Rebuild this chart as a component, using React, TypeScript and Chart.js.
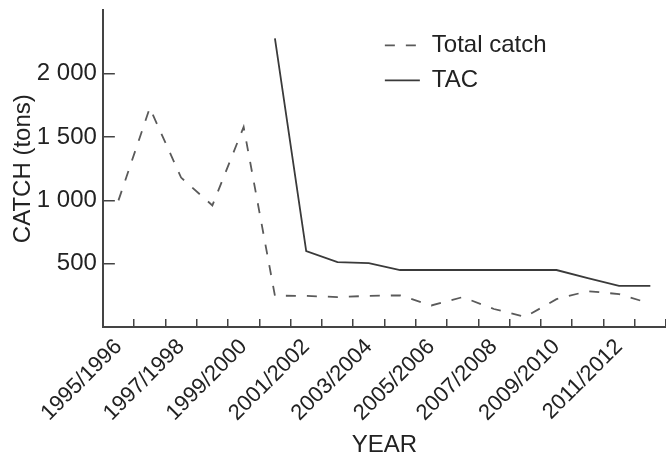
import { useEffect, useRef } from 'react';
import { Chart, registerables } from 'chart.js';

Chart.register(...registerables);

const seasons = [
  '1995/1996', '1996/1997', '1997/1998', '1998/1999', '1999/2000', '2000/2001',
  '2001/2002', '2002/2003', '2003/2004', '2004/2005', '2005/2006', '2006/2007',
  '2007/2008', '2008/2009', '2009/2010', '2010/2011', '2011/2012', '2012/2013',
];
const shownTickLabels = [
  '1995/1996', '1997/1998', '1999/2000', '2001/2002', '2003/2004',
  '2005/2006', '2007/2008', '2009/2010', '2011/2012',
];
const totalCatch = [1000, 1730, 1180, 960, 1580, 247, 246, 236, 246, 250, 170, 236, 142, 80, 220, 283, 260, 185];
const tac = [null, null, null, null, null, 2280, 600, 512, 505, 450, 450, 450, 450, 450, 450, 386, 325, 325];
const yTickValues = [500, 1000, 1500, 2000];

const FONT = 'Liberation Sans, Arial, Helvetica, sans-serif';

const legendPlugin = {
  id: 'insideLegend',
  afterDraw(chart: any) {
    const { ctx, chartArea } = chart;
    const x0 = chartArea.left + 282;
    const y0 = chartArea.top + 35;
    ctx.save();
    ctx.font = `24px ${FONT}`;
    ctx.textBaseline = 'middle';
    ctx.fillStyle = '#222';
    chart.data.datasets.forEach((ds: any, i: number) => {
      const y = y0 + i * 35;
      ctx.beginPath();
      ctx.strokeStyle = ds.borderColor;
      ctx.lineWidth = ds.borderWidth;
      ctx.setLineDash(ds.borderDash || []);
      ctx.moveTo(x0, y);
      ctx.lineTo(x0 + 35, y);
      ctx.stroke();
      ctx.setLineDash([]);
      ctx.fillText(ds.label, x0 + 47, y);
    });
    ctx.restore();
  },
};

export default function App() {
  const ref = useRef<HTMLCanvasElement>(null);
  useEffect(() => {
    document.body.style.overflow = 'hidden';
    const chart = new Chart(ref.current!, {
      type: 'line',
      data: {
        labels: seasons,
        datasets: [
          {
            label: 'Total catch',
            data: totalCatch,
            borderColor: '#5a5a5a',
            borderWidth: 1.8,
            borderDash: [10, 11],
            pointRadius: 0,
            tension: 0,
            fill: false,
          },
          {
            label: 'TAC',
            data: tac,
            borderColor: '#3a3a3a',
            borderWidth: 1.8,
            pointRadius: 0,
            tension: 0,
            fill: false,
          },
        ],
      },
      options: {
        animation: false,
        responsive: true,
        maintainAspectRatio: false,
        layout: { autoPadding: false, padding: { top: 12, left: 9, right: 0, bottom: 0 } },
        plugins: {
          legend: { display: false },
          tooltip: { enabled: false },
        },
        scales: {
          x: {
            type: 'category',
            offset: true,
            grid: {
              offset: true,
              drawOnChartArea: false,
              drawTicks: true,
              tickLength: -8,
              color: '#444',
              lineWidth: 1.5,
            },
            border: { color: '#444', width: 2 },
            ticks: {
              autoSkip: false,
              maxRotation: 45,
              minRotation: 45,
              padding: 15,
              color: '#222',
              font: { family: FONT, size: 22 },
              callback: function (this: any, value: any) {
                const lbl = this.getLabelForValue(value);
                return shownTickLabels.includes(lbl) ? lbl : '';
              },
            },
            title: {
              display: true,
              text: 'YEAR',
              color: '#222',
              font: { family: FONT, size: 24 },
              padding: { top: -10, bottom: 0 },
            },
          },
          y: {
            min: 0,
            max: 2500,
            grid: {
              drawOnChartArea: false,
              drawTicks: true,
              tickLength: -12,
              color: '#444',
              lineWidth: 1.5,
            },
            border: { color: '#444', width: 2 },
            afterBuildTicks: (scale: any) => {
              scale.ticks = yTickValues.map((v) => ({ value: v }));
            },
            ticks: {
              padding: 18,
              color: '#222',
              font: { family: FONT, size: 24 },
              callback: (v: any) => {
                const n = Number(v);
                return n >= 1000 ? `${Math.floor(n / 1000)} ${String(n % 1000).padStart(3, '0')}` : String(n);
              },
            },
            title: {
              display: true,
              text: 'CATCH (tons)',
              color: '#222',
              font: { family: FONT, size: 24 },
              padding: { top: 0, bottom: -19 },
            },
          },
        },
      },
      plugins: [legendPlugin],
    });
    return () => chart.destroy();
  }, []);
  return (
    <div style={{ position: 'fixed', left: 0, top: -22, width: 684, height: 482, background: '#fff' }}>
      <canvas ref={ref} />
    </div>
  );
}
